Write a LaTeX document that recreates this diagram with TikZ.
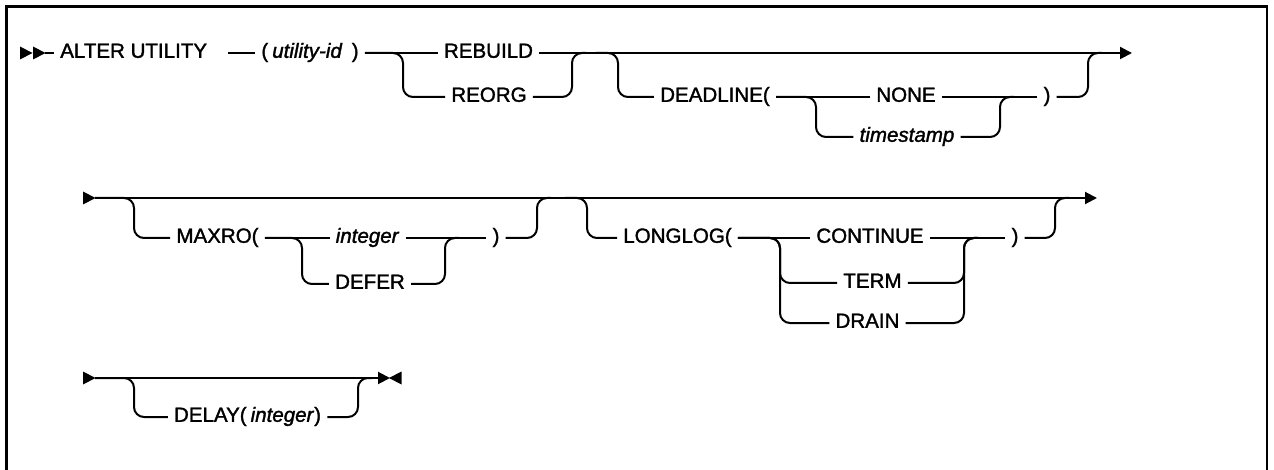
\documentclass[tikz,border=0pt]{standalone}
\usepackage{fontspec}
\setmainfont{Liberation Sans}[FakeBold=1.6]
\usetikzlibrary{arrows.meta}
\begin{document}
\begin{tikzpicture}[x=0.75pt,y=-0.75pt,
  rail/.style={line width=1.5pt, rounded corners=7.5pt},
  endarrow/.style={-{Triangle[length=9pt,width=9pt]}},
  kw/.style={inner xsep=4.5pt, inner ysep=0pt, text height=0.72em, text depth=0pt,
    font=\fontsize{15.4pt}{18pt}\selectfont},
  frame/.style={line width=2pt}]
\useasboundingbox (0,0) rectangle (1274,470);
\draw[frame] (6.5,470) -- (6.5,6.5) -- (1267,6.5) -- (1267,470);

% ---------------- row 1 ----------------
\fill (20,46.5) -- (32.5,53) -- (20,59.5) -- cycle;
\fill (33,46.5) -- (45.5,53) -- (33,59.5) -- cycle;
\coordinate (st1) at (45,53);
\node[kw, anchor=west] (alter) at (54,53) {ALTER UTILITY};
\coordinate (d1) at (228,53);
\node[kw] (util) at (310,53) {(\hspace{3pt}\textit{utility-id}\hspace{7pt})};
\node[kw] (rebuild) at (488.5,53) {REBUILD};
\node[kw] (reorg) at (489,97) {REORG};
\node[kw] (deadline) at (715,97) {DEADLINE(};
\node[kw] (none) at (906,97) {NONE};
\node[kw] (tstamp) at (907,137) {\textit{timestamp}};
\node[kw] (rpa) at (1047,97) {)};
\coordinate (e1) at (1132,53);

\draw[rail] (st1) -- (alter.west);
\draw[rail] (d1) -- (util.west);
\draw[rail] (util.east) -- (rebuild.west);
\draw[rail] (util.east) -| (403,97) -- (reorg.west);
\draw[rail, endarrow] (rebuild.east) -- (e1);
\draw[rail] (reorg.east) -| (572,53) -- (586,53);
\draw[rail] (596,53) -| (618,97) -- (deadline.west);
\draw[rail] (deadline.east) -- (none.west);
\draw[rail] (deadline.east) -| (816,137) -- (tstamp.west);
\draw[rail] (none.east) -- (rpa.west);
\draw[rail] (tstamp.east) -| (1000,97) -- (1014,97);
\draw[rail] (rpa.east) -| (1088,53) -- (1102,53);

% ---------------- row 2 ----------------
\fill (83,191.5) -- (95.5,198) -- (83,204.5) -- cycle;
\coordinate (st2) at (95,198);
\node[kw] (maxro) at (217.5,238) {MAXRO(};
\node[kw] (intg) at (367.5,238) {\textit{integer}};
\node[kw] (defer) at (370,284) {DEFER};
\node[kw] (rpb) at (496,238) {)};
\node[kw] (longlog) at (677.5,238) {LONGLOG(};
\node[kw] (cont) at (870,238) {CONTINUE};
\node[kw] (term) at (872.5,283) {TERM};
\node[kw] (drain) at (867.5,323) {DRAIN};
\node[kw] (rpc) at (1015,238) {)};
\coordinate (e2) at (1097,198);

\draw[rail, endarrow] (st2) -- (e2);
\draw[rail] (st2) -| (134,238) -- (maxro.west);
\draw[rail] (maxro.east) -- (intg.west);
\draw[rail] (maxro.east) -| (302,284) -- (defer.west);
\draw[rail] (intg.east) -- (rpb.west);
\draw[rail] (defer.east) -| (445,238) -- (459,238);
\draw[rail] (rpb.east) -| (537,198) -- (551,198);
\draw[rail] (565,198) -| (587,238) -- (longlog.west);
\draw[rail] (longlog.east) -- (cont.west);
\draw[rail] (longlog.east) -| (780,283) -- (term.west);
\draw[rail] (longlog.east) -| (780,323) -- (drain.west);
\draw[rail] (cont.east) -- (rpc.west);
\draw[rail] (term.east) -| (964,238) -- (978,238);
\draw[rail] (drain.east) -| (964,238) -- (978,238);
\draw[rail] (rpc.east) -| (1055,198) -- (1069,198);

% ---------------- row 3 ----------------
\fill (83,371.5) -- (95.5,378) -- (83,384.5) -- cycle;
\coordinate (st3) at (95,378);
\node[kw] (delay) at (247.5,417) {DELAY(\hspace{3pt}\textit{integer})};
\coordinate (e3) at (390,378);

\draw[rail, endarrow] (st3) -- (e3);
\fill (401.5,371.5) -- (389,378) -- (401.5,384.5) -- cycle;
\draw[rail] (st3) -| (134,417) -- (delay.west);
\draw[rail] (delay.east) -| (358,378) -- (372,378);
\end{tikzpicture}
\end{document}
